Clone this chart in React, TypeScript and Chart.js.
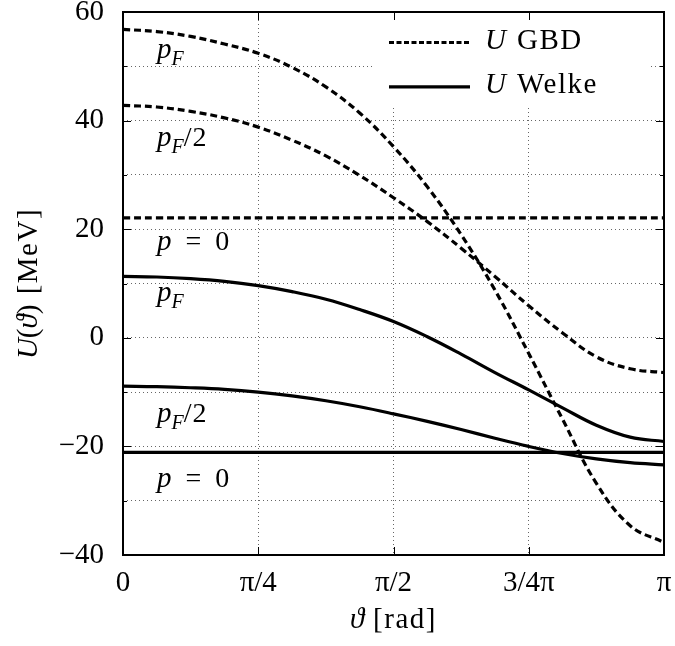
import { useEffect, useRef } from 'react';
import { Chart, registerables } from 'chart.js';

Chart.register(...registerables);

// θ / π sample positions
const thetaOverPi = [0, 0.0625, 0.125, 0.1875, 0.25, 0.3125, 0.375, 0.4375, 0.5, 0.5625, 0.625, 0.6875, 0.75, 0.8125, 0.875, 0.9375, 1];

// U GBD (dashed)
const gbdPF = [56.8, 56.4, 55.5, 54.1, 52.4, 49.8, 46.2, 41.4, 35.2, 27.8, 19.0, 8.8, -2.9, -15.0, -26.8, -34.6, -37.7];
const gbdPF2 = [42.8, 42.5, 41.7, 40.5, 38.8, 36.4, 33.5, 29.9, 25.8, 21.4, 16.5, 11.3, 5.9, 0.9, -3.5, -5.7, -6.4];
const gbdP0 = [22.1, 22.1, 22.1, 22.1, 22.1, 22.1, 22.1, 22.1, 22.1, 22.1, 22.1, 22.1, 22.1, 22.1, 22.1, 22.1, 22.1];

// U Welke (solid)
const welkePF = [11.3, 11.2, 10.9, 10.4, 9.6, 8.5, 7.1, 5.2, 3.0, 0.2, -3.0, -6.4, -9.6, -12.9, -16.1, -18.3, -19.1];
const welkePF2 = [-8.9, -9.0, -9.2, -9.5, -10.0, -10.7, -11.6, -12.7, -14.0, -15.4, -16.9, -18.5, -20.0, -21.3, -22.3, -23.0, -23.4];
const welkeP0 = [-21.1, -21.1, -21.1, -21.1, -21.1, -21.1, -21.1, -21.1, -21.1, -21.1, -21.1, -21.1, -21.1, -21.1, -21.1, -21.1, -21.1];

// axes
const xTickFractions = [0, 0.25, 0.5, 0.75, 1];
const xTickLabels = ['0', 'π/4', 'π/2', '3/4π', 'π'];
const yMin = -40;
const yMax = 60;

// curve annotations: θ/π, U (baseline), kind
const labelThetaOverPi = [0.063, 0.063, 0.063, 0.063, 0.063, 0.063];
const labelU = [51.5, 35.3, 16.2, 6.8, -15.5, -27.4];
const labelKind = ['pF', 'pF2', 'p0', 'pF', 'pF2', 'p0'];

const legendNames = ['GBD', 'Welke'];

const FAMILY = "'Liberation Serif', 'DejaVu Serif', serif";

type Seg = { text: string; italic?: boolean; size?: number; dy?: number; spacing?: number };

function fontOf(s: Seg) {
  return `${s.italic ? 'italic ' : ''}${s.size ?? 28}px ${FAMILY}`;
}

function setSpacing(ctx: any, px: number) {
  if ('letterSpacing' in ctx) ctx.letterSpacing = `${px}px`;
}

function drawRich(ctx: CanvasRenderingContext2D, segs: Seg[], x: number, y: number, align: 'left' | 'center') {
  let w = 0;
  for (const s of segs) {
    ctx.font = fontOf(s);
    setSpacing(ctx, s.spacing ?? 0);
    w += ctx.measureText(s.text).width;
  }
  let cx = align === 'center' ? x - w / 2 : x;
  ctx.textAlign = 'left';
  ctx.textBaseline = 'alphabetic';
  for (const s of segs) {
    ctx.font = fontOf(s);
    setSpacing(ctx, s.spacing ?? 0);
    ctx.fillText(s.text, cx, y + (s.dy ?? 0));
    cx += ctx.measureText(s.text).width;
  }
  setSpacing(ctx, 0);
}

function labelSegs(kind: string): Seg[] {
  if (kind === 'pF') return [{ text: 'p', italic: true, size: 29 }, { text: 'F', italic: true, size: 20, dy: 7 }];
  if (kind === 'pF2')
    return [
      { text: 'p', italic: true, size: 29 },
      { text: 'F', italic: true, size: 20, dy: 7 },
      { text: '/2', size: 28, spacing: 1 },
    ];
  return [{ text: 'p', italic: true, size: 29 }, { text: '  =  0', size: 28 }];
}

const overlayPlugin = {
  id: 'overlay',
  afterDatasetsDraw(chart: any) {
    const { ctx, chartArea: a, scales } = chart;
    const xs = scales.x;
    const ys = scales.y;
    ctx.save();
    ctx.fillStyle = '#000';

    // curve labels
    for (let i = 0; i < labelKind.length; i++) {
      const px = xs.getPixelForValue(labelThetaOverPi[i] * Math.PI);
      const py = ys.getPixelForValue(labelU[i]);
      drawRich(ctx, labelSegs(labelKind[i]), px, py, 'left');
    }

    // legend box
    ctx.fillStyle = '#fff';
    ctx.fillRect(a.right - 292, a.top, 276, 96);
    ctx.fillStyle = '#000';
    for (let i = 0; i < legendNames.length; i++) {
      const ly = a.top + 30.5 + i * 44.4;
      ctx.beginPath();
      ctx.lineWidth = 3.2;
      ctx.strokeStyle = '#000';
      ctx.setLineDash(i === 0 ? [5, 2.5] : []);
      ctx.moveTo(a.right - 275, ly);
      ctx.lineTo(a.right - 194, ly);
      ctx.stroke();
      ctx.setLineDash([]);
      drawRich(ctx, [{ text: 'U', italic: true, size: 29 }], a.right - 179, ly + 6.5, 'left');
      drawRich(ctx, [{ text: legendNames[i], size: 29, spacing: 1.5 }], a.right - 147, ly + 6.5, 'left');
    }

    // inward ticks
    ctx.strokeStyle = '#000';
    ctx.lineWidth = 1;
    for (let v = yMin; v <= yMax; v += 10) {
      const py = Math.round(ys.getPixelForValue(v)) + 0.5;
      const len = v % 20 === 0 ? 8 : 4;
      ctx.beginPath();
      ctx.moveTo(a.left, py);
      ctx.lineTo(a.left + len, py);
      ctx.moveTo(a.right, py);
      ctx.lineTo(a.right - len, py);
      ctx.stroke();
    }
    for (const f of xTickFractions) {
      const px = Math.round(xs.getPixelForValue(f * Math.PI)) + 0.5;
      ctx.beginPath();
      ctx.moveTo(px, a.bottom);
      ctx.lineTo(px, a.bottom - 8);
      ctx.moveTo(px, a.top);
      ctx.lineTo(px, a.top + 8);
      ctx.stroke();
    }

    // frame
    ctx.lineWidth = 2;
    ctx.strokeRect(a.left, a.top, a.right - a.left, a.bottom - a.top);

    // axis titles
    ctx.fillStyle = '#000';
    drawRich(
      ctx,
      [{ text: 'ϑ', italic: true, size: 29 }, { text: ' [rad]', size: 29, spacing: 1.5 }],
      (a.left + a.right) / 2,
      628,
      'center'
    );
    ctx.save();
    ctx.translate(37, (a.top + a.bottom) / 2);
    ctx.rotate(-Math.PI / 2);
    drawRich(
      ctx,
      [
        { text: 'U', italic: true, size: 29 },
        { text: '(', size: 29 },
        { text: 'ϑ', italic: true, size: 29 },
        { text: ') [MeV]', size: 29, spacing: 1.5 },
      ],
      0,
      0,
      'center'
    );
    ctx.restore();
    ctx.restore();
  },
};

function fmtY(v: number) {
  if (v % 20 !== 0) return '';
  return v < 0 ? '−' + Math.abs(v) : String(v);
}

export default function App() {
  const ref = useRef<HTMLCanvasElement | null>(null);

  useEffect(() => {
    if (!ref.current) return;
    const pts = (arr: number[]) => thetaOverPi.map((f, i) => ({ x: f * Math.PI, y: arr[i] }));
    const dashed = { borderColor: '#000', borderWidth: 3.2, borderDash: [7, 4], pointRadius: 0, fill: false, tension: 0.4 };
    const solid = { borderColor: '#000', borderWidth: 3.2, pointRadius: 0, fill: false, tension: 0.4 };
    const chart = new Chart(ref.current, {
      type: 'line',
      data: {
        datasets: [
          { label: 'U GBD pF', data: pts(gbdPF), ...dashed },
          { label: 'U GBD pF/2', data: pts(gbdPF2), ...dashed },
          { label: 'U GBD p=0', data: pts(gbdP0), ...dashed },
          { label: 'U Welke pF', data: pts(welkePF), ...solid },
          { label: 'U Welke pF/2', data: pts(welkePF2), ...solid },
          { label: 'U Welke p=0', data: pts(welkeP0), ...solid },
        ],
      },
      options: {
        animation: false,
        responsive: false,
        layout: { padding: { top: 12, right: 11, left: 0, bottom: 0 } },
        plugins: { legend: { display: false }, tooltip: { enabled: false } },
        scales: {
          x: {
            type: 'linear',
            min: 0,
            max: Math.PI,
            afterBuildTicks: (s: any) => {
              s.ticks = xTickFractions.map((f) => ({ value: f * Math.PI }));
            },
            afterFit: (s: any) => {
              s.height = 91;
              s.paddingLeft = 0;
              s.paddingRight = 0;
            },
            ticks: {
              callback: (_v: any, i: number) => xTickLabels[i],
              font: { family: FAMILY, size: 29 },
              color: '#000',
              padding: 11,
              maxRotation: 0,
              autoSkip: false,
            },
            grid: { color: '#666', lineWidth: 1, drawTicks: false },
            border: { display: false, dash: [1, 3] },
          },
          y: {
            type: 'linear',
            min: yMin,
            max: yMax,
            afterFit: (s: any) => {
              s.width = 123;
              s.paddingTop = 0;
              s.paddingBottom = 0;
            },
            ticks: {
              stepSize: 10,
              callback: (v: any) => fmtY(Number(v)),
              font: { family: FAMILY, size: 29 },
              color: '#000',
              padding: 19,
              autoSkip: false,
            },
            grid: { color: '#666', lineWidth: 1, drawTicks: false },
            border: { display: false, dash: [1, 3] },
          },
        },
      },
      plugins: [overlayPlugin],
    });
    return () => chart.destroy();
  }, []);

  return (
    <div style={{ position: 'absolute', left: 0, top: 0, width: 675, height: 646, background: '#fff' }}>
      <canvas ref={ref} width={675} height={646} style={{ display: 'block' }} />
    </div>
  );
}
